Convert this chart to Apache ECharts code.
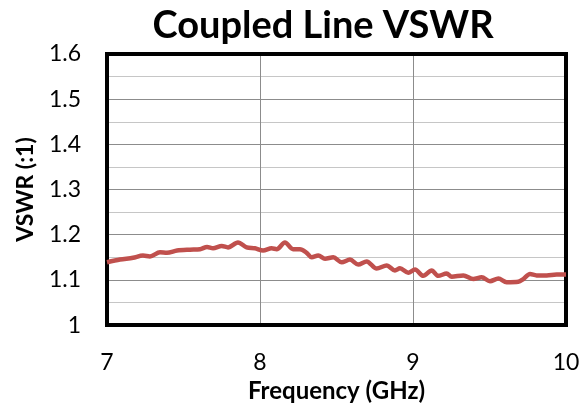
<!DOCTYPE html>
<html>
<head>
<meta charset="utf-8">
<script src="https://cdn.jsdelivr.net/npm/echarts@6/dist/echarts.min.js"></script>
<style>
  html, body { margin: 0; padding: 0; background: #fff; }
  #chart { width: 587px; height: 408px; }
</style>
</head>
<body>
<div id="chart"></div>
<script>
// frequency points (GHz) and VSWR readings
const freqGHz = [
  7.00, 7.085, 7.17, 7.235, 7.281, 7.346, 7.392, 7.458, 7.542, 7.608,
  7.654, 7.693, 7.75, 7.791, 7.856, 7.913, 7.967, 8.02, 8.076, 8.109,
  8.163, 8.216, 8.261, 8.305, 8.338, 8.381, 8.425, 8.479, 8.534, 8.588,
  8.642, 8.697, 8.763, 8.828, 8.882, 8.915, 8.969, 9.013, 9.067, 9.122,
  9.165, 9.22, 9.253, 9.329, 9.394, 9.449, 9.503, 9.558, 9.612, 9.688,
  9.721, 9.765, 9.808, 9.874, 9.939, 10.0
];
const vswr = [
  1.139, 1.145, 1.149, 1.154, 1.152, 1.161, 1.160, 1.165, 1.167, 1.168,
  1.173, 1.170, 1.175, 1.172, 1.183, 1.172, 1.170, 1.165, 1.170, 1.168,
  1.183, 1.168, 1.168, 1.160, 1.150, 1.154, 1.147, 1.150, 1.139, 1.145,
  1.134, 1.141, 1.125, 1.132, 1.121, 1.126, 1.116, 1.123, 1.109, 1.121,
  1.109, 1.114, 1.107, 1.110, 1.102, 1.106, 1.097, 1.103, 1.095, 1.096,
  1.102, 1.113, 1.110, 1.110, 1.112, 1.112
];

const title = 'Coupled Line VSWR';
const xName = 'Frequency (GHz)';
const yName = 'VSWR (:1)';

const FONT = 'Lato';
const MAJOR = '#8c8c8c';
const MINOR = '#c6c6c6';

const chart = echarts.init(document.getElementById('chart'), null, { renderer: 'canvas' });

chart.setOption({
  backgroundColor: '#fff',
  animation: false,
  title: {
    text: title,
    left: 318,
    top: 2,
    textAlign: 'center',
    textStyle: { fontFamily: FONT, fontSize: 38, fontWeight: 'bold', color: '#000' }
  },
  grid: {
    left: 107,
    right: 21,
    top: 54,
    bottom: 77,
    show: true,
    z: 1,
    borderColor: '#000',
    borderWidth: 4
  },
  xAxis: {
    type: 'value',
    min: 7,
    max: 10,
    interval: 1,
    name: xName,
    nameLocation: 'middle',
    nameGap: 52,
    nameTextStyle: { fontFamily: FONT, fontSize: 24, fontWeight: 'bold', color: '#000' },
    axisLine: { show: false },
    axisTick: { show: false },
    axisLabel: { margin: 26, fontFamily: FONT, fontSize: 23, color: '#000' },
    splitLine: { show: true, showMinLine: false, showMaxLine: false, lineStyle: { color: MAJOR, width: 1 } }
  },
  yAxis: {
    type: 'value',
    min: 1,
    max: 1.6,
    interval: 0.1,
    name: yName,
    nameLocation: 'middle',
    nameGap: 70,
    nameTextStyle: { fontFamily: FONT, fontSize: 23, fontWeight: 'bold', color: '#000' },
    axisLine: { show: false },
    axisTick: { show: false },
    axisLabel: { margin: 26, fontFamily: FONT, fontSize: 23, color: '#000' },
    splitLine: { show: true, showMinLine: false, showMaxLine: false, lineStyle: { color: MAJOR, width: 1 } },
    minorTick: { show: false, splitNumber: 2 },
    minorSplitLine: { show: true, lineStyle: { color: MINOR, width: 1 } }
  },
  series: [{
    type: 'line',
    data: freqGHz.map((f, i) => [f, vswr[i]]),
    smooth: 0.3,
    showSymbol: false,
    lineStyle: { color: '#C0504D', width: 4.5 },
    itemStyle: { color: '#C0504D' }
  }]
});
</script>
</body>
</html>
